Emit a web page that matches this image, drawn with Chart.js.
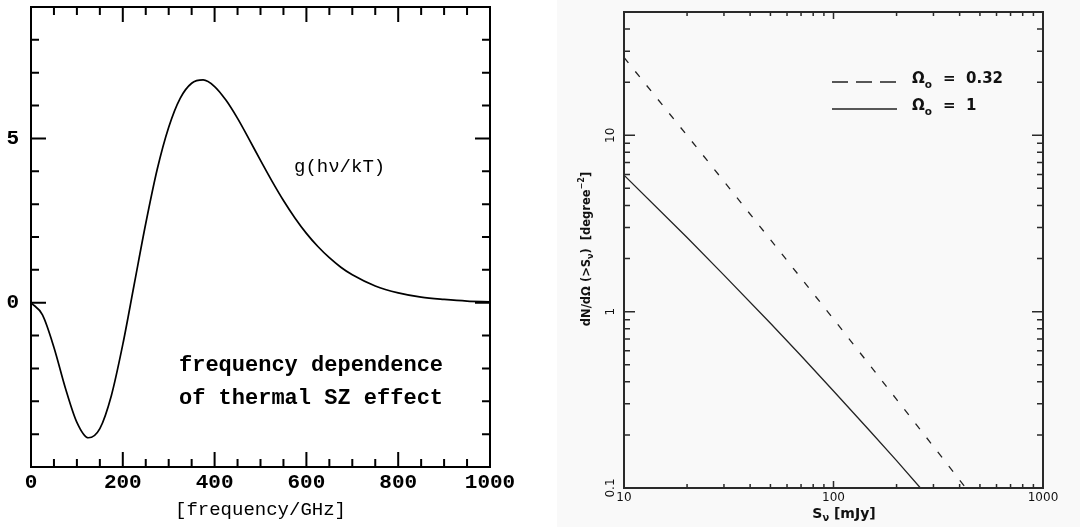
<!DOCTYPE html>
<html>
<head>
<meta charset="utf-8">
<script src="https://cdn.jsdelivr.net/npm/chart.js@4.4.1/dist/chart.umd.min.js"></script>
<style>
  html, body { margin: 0; padding: 0; background: #fff; }
  #page { position: relative; width: 1080px; height: 527px; overflow: hidden; }
  .box { position: absolute; top: 0; height: 527px; }
  #leftBox { left: 0; width: 540px; }
  #rightBg { left: 557px; width: 523px; background: #f9f9f9; }
  #rightBox { left: 540px; width: 540px; }
</style>
</head>
<body>
<div id="page">
  <div class="box" id="leftBox"><canvas id="szChart"></canvas></div>
  <div class="box" id="rightBg"></div>
  <div class="box" id="rightBox"><canvas id="countsChart"></canvas></div>
</div>
<script>
// left panel: thermal SZ spectral shape g(hv/kT)
const freqGHz = [0, 25, 50, 75, 100, 125, 150, 175, 200, 225, 250, 275, 300, 325, 350, 375,
                 400, 425, 450, 475, 500, 525, 550, 575, 600, 625, 650, 675, 700,
                 750, 800, 850, 900, 950, 1000];
const gValues = [0, -0.37, -1.36, -2.60, -3.64, -4.11, -3.83, -2.83, -1.27, 0.57, 2.41, 4.06, 5.34, 6.22, 6.68, 6.78,
                 6.58, 6.16, 5.61, 4.98, 4.33, 3.70, 3.11, 2.58, 2.11, 1.71, 1.37, 1.08, 0.85,
                 0.51, 0.30, 0.17, 0.10, 0.05, 0.03];
const freqTicks = [0, 50, 100, 150, 200, 250, 300, 350, 400, 450, 500, 550, 600, 650, 700, 750, 800, 850, 900, 950, 1000];
const freqLabels = [0, 200, 400, 600, 800, 1000];
const gTicks = [-5, -4, -3, -2, -1, 0, 1, 2, 3, 4, 5, 6, 7, 8, 9];
const gLabels = [0, 5];

// right panel: cumulative counts dN/dOmega(>S)
const fluxDashed = [10, 20, 30, 50, 70, 100, 150, 200, 300, 428];
const countsLowOmega = [27.6, 9.98, 5.48, 2.56, 1.55, 0.908, 0.492, 0.318, 0.172, 0.1];   // Omega_o = 0.32
const fluxSolid = [10, 20, 30, 50, 70, 100, 150, 200, 260];
const countsOmegaOne = [5.94, 2.63, 1.61, 0.859, 0.562, 0.355, 0.209, 0.143, 0.1];       // Omega_o = 1
const fluxTicks = [10, 20, 30, 40, 50, 60, 70, 80, 90, 100, 200, 300, 400, 500, 600, 700, 800, 900, 1000];
const fluxLabels = [10, 100, 1000];
const countTicks = [0.1, 0.2, 0.3, 0.4, 0.5, 0.6, 0.7, 0.8, 0.9, 1, 2, 3, 4, 5, 6, 7, 8, 9, 10, 20, 30, 40, 50];
const countLabels = [0.1, 1, 10];

const MONO = '"Liberation Mono", monospace';
const SANS = '"DejaVu Sans", sans-serif';

const setTicks = list => scale => { scale.ticks = list.map(v => ({ value: v })); };

// frame plus inward ticks on all four sides
function boxTicks(opt) {
  return {
    id: 'boxTicks',
    afterDatasetsDraw(chart) {
      const { ctx, chartArea: a, scales: { x, y } } = chart;
      ctx.save();
      ctx.strokeStyle = opt.color;
      ctx.lineWidth = opt.tickWidth;
      ctx.beginPath();
      x.ticks.forEach(t => {
        const px = x.getPixelForValue(t.value);
        const len = opt.xMajor.includes(t.value) ? opt.xLong : opt.xShort;
        ctx.moveTo(px, a.bottom); ctx.lineTo(px, a.bottom - len);
        ctx.moveTo(px, a.top); ctx.lineTo(px, a.top + len);
      });
      y.ticks.forEach(t => {
        const py = y.getPixelForValue(t.value);
        const len = opt.yMajor.includes(t.value) ? opt.yLong : opt.yShort;
        ctx.moveTo(a.left, py); ctx.lineTo(a.left + len, py);
        ctx.moveTo(a.right, py); ctx.lineTo(a.right - len, py);
      });
      ctx.stroke();
      ctx.lineWidth = opt.frameWidth;
      ctx.strokeRect(a.left, a.top, a.right - a.left, a.bottom - a.top);
      ctx.restore();
    }
  };
}

// text with sub/superscripts: parts = [[text, '' | 'sub' | 'sup'], ...]
function richWidth(ctx, parts, size, weight, family) {
  let w = 0;
  parts.forEach(([txt, kind]) => {
    ctx.font = `${weight} ${kind ? size * 0.7 : size}px ${family}`;
    w += ctx.measureText(txt).width;
  });
  return w;
}
function drawRich(ctx, parts, x, y, size, weight, family) {
  let cx = x;
  parts.forEach(([txt, kind]) => {
    ctx.font = `${weight} ${kind ? size * 0.7 : size}px ${family}`;
    const dy = kind === 'sub' ? size * 0.3 : kind === 'sup' ? -size * 0.4 : 0;
    ctx.fillText(txt, cx, y + dy);
    cx += ctx.measureText(txt).width;
  });
}

const szNotes = {
  id: 'szNotes',
  afterDraw(chart) {
    const { ctx } = chart;
    ctx.save();
    ctx.fillStyle = '#000';
    ctx.textBaseline = 'middle';
    ctx.font = `19px ${MONO}`;
    ctx.fillText('g(hν/kT)', 294, 167);
    ctx.font = `bold 22px ${MONO}`;
    ctx.fillText('frequency dependence', 179, 365);
    ctx.fillText('of thermal SZ effect', 179, 398);
    ctx.restore();
  }
};

const countsNotes = {
  id: 'countsNotes',
  afterDraw(chart) {
    const { ctx, scales: { y } } = chart;
    ctx.save();
    ctx.fillStyle = '#111';
    ctx.strokeStyle = '#222';
    ctx.lineWidth = 1.3;

    // y tick labels, rotated like the original
    ctx.font = `12px ${SANS}`;
    ctx.textAlign = 'center';
    ctx.textBaseline = 'middle';
    countLabels.forEach(v => {
      ctx.save();
      ctx.translate(71, y.getPixelForValue(v));
      ctx.rotate(-Math.PI / 2);
      ctx.fillText(String(v), 0, 0);
      ctx.restore();
    });
    ctx.textAlign = 'left';

    // legend
    ctx.setLineDash([16, 8]);
    ctx.beginPath(); ctx.moveTo(292, 82); ctx.lineTo(357, 82); ctx.stroke();
    ctx.setLineDash([]);
    ctx.beginPath(); ctx.moveTo(292, 109); ctx.lineTo(357, 109); ctx.stroke();
    ctx.textBaseline = 'alphabetic';
    drawRich(ctx, [['Ω', ''], ['o', 'sub']], 372, 83, 15, 'bold', SANS);
    drawRich(ctx, [['Ω', ''], ['o', 'sub']], 372, 110, 15, 'bold', SANS);
    ctx.font = `bold 15px ${SANS}`;
    ctx.fillText('=  0.32', 403, 83);
    ctx.fillText('=  1', 403, 110);

    // axis titles
    ctx.textBaseline = 'middle';
    const xt = [['S', ''], ['ν', 'sub'], [' [mJy]', '']];
    drawRich(ctx, xt, 304 - richWidth(ctx, xt, 14, 'bold', SANS) / 2, 514, 14, 'bold', SANS);
    const yt = [['dN/dΩ (>S', ''], ['ν', 'sub'], [')  [degree', ''], ['−2', 'sup'], [']', '']];
    ctx.save();
    ctx.translate(47, 249);
    ctx.rotate(-Math.PI / 2);
    drawRich(ctx, yt, -richWidth(ctx, yt, 11.5, 'bold', SANS) / 2, 0, 11.5, 'bold', SANS);
    ctx.restore();
    ctx.restore();
  }
};

new Chart(document.getElementById('szChart'), {
  type: 'line',
  data: {
    datasets: [{
      data: freqGHz.map((f, i) => ({ x: f, y: gValues[i] })),
      borderColor: '#000',
      borderWidth: 1.7,
      pointRadius: 0,
      cubicInterpolationMode: 'monotone',
      fill: false
    }]
  },
  options: {
    responsive: true,
    maintainAspectRatio: false,
    animation: false,
    layout: { padding: { left: 0, top: 7, right: 50, bottom: 0 } },
    plugins: { legend: { display: false }, tooltip: { enabled: false } },
    scales: {
      x: {
        type: 'linear', min: 0, max: 1000,
        grid: { display: false, drawTicks: false },
        border: { display: false },
        afterBuildTicks: setTicks(freqTicks),
        ticks: {
          autoSkip: false, maxRotation: 0, padding: 3, color: '#000',
          font: { family: MONO, size: 21, weight: 'bold' },
          callback: v => freqLabels.includes(v) ? String(v) : ''
        },
        title: {
          display: true, text: '[frequency/GHz]', color: '#000',
          font: { family: MONO, size: 19 }, padding: { top: 0, bottom: 6 }
        },
        afterFit: s => { s.height = 60; s.paddingLeft = 0; s.paddingRight = 0; }
      },
      y: {
        type: 'linear', min: -5, max: 9,
        grid: { display: false, drawTicks: false },
        border: { display: false },
        afterBuildTicks: setTicks(gTicks),
        ticks: {
          autoSkip: false, padding: 12, color: '#000',
          font: { family: MONO, size: 21, weight: 'bold' },
          callback: v => gLabels.includes(v) ? String(v) : ''
        },
        afterFit: s => { s.width = 31; s.paddingTop = 0; s.paddingBottom = 0; }
      }
    }
  },
  plugins: [boxTicks({
    color: '#000', tickWidth: 2, frameWidth: 2,
    xMajor: freqLabels, xLong: 15, xShort: 8,
    yMajor: gLabels, yLong: 15, yShort: 8
  }), szNotes]
});

new Chart(document.getElementById('countsChart'), {
  type: 'line',
  data: {
    datasets: [{
      label: 'Ωo = 0.32',
      data: fluxDashed.map((s, i) => ({ x: s, y: countsLowOmega[i] })),
      borderColor: '#222',
      borderWidth: 1.3,
      borderDash: [7, 11],
      pointRadius: 0,
      tension: 0,
      fill: false
    }, {
      label: 'Ωo = 1',
      data: fluxSolid.map((s, i) => ({ x: s, y: countsOmegaOne[i] })),
      borderColor: '#222',
      borderWidth: 1.3,
      pointRadius: 0,
      tension: 0,
      fill: false
    }]
  },
  options: {
    responsive: true,
    maintainAspectRatio: false,
    animation: false,
    layout: { padding: { left: 0, top: 12, right: 37, bottom: 0 } },
    plugins: { legend: { display: false }, tooltip: { enabled: false } },
    scales: {
      x: {
        type: 'logarithmic', min: 10, max: 1000,
        grid: { display: false, drawTicks: false },
        border: { display: false },
        afterBuildTicks: setTicks(fluxTicks),
        ticks: {
          autoSkip: false, maxRotation: 0, padding: 3, color: '#111',
          font: { family: SANS, size: 12 },
          callback: v => fluxLabels.includes(v) ? String(v) : ''
        },
        afterFit: s => { s.height = 39; s.paddingLeft = 0; s.paddingRight = 0; }
      },
      y: {
        type: 'logarithmic', min: 0.1, max: 50,
        grid: { display: false, drawTicks: false },
        border: { display: false },
        afterBuildTicks: setTicks(countTicks),
        ticks: { display: false, autoSkip: false },
        afterFit: s => { s.width = 84; s.paddingTop = 0; s.paddingBottom = 0; }
      }
    }
  },
  plugins: [boxTicks({
    color: '#2a2a2a', tickWidth: 1.5, frameWidth: 2,
    xMajor: fluxLabels, xLong: 7, xShort: 4,
    yMajor: countLabels, yLong: 11, yShort: 6
  }), countsNotes]
});
</script>
</body>
</html>
